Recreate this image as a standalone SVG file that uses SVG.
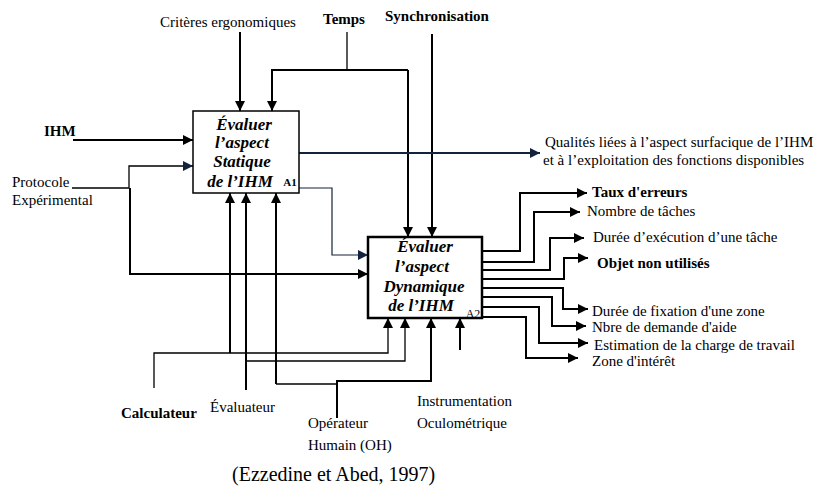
<svg xmlns="http://www.w3.org/2000/svg" width="817" height="496" viewBox="0 0 817 496">
<defs>
<marker id="a" viewBox="0 0 10 10" refX="10" refY="5" markerWidth="10" markerHeight="10" markerUnits="userSpaceOnUse" orient="auto"><path d="M0,0L10,5L0,10z" fill="#000"/></marker>
<marker id="b" viewBox="0 0 10 10" refX="10" refY="5" markerWidth="10" markerHeight="10" markerUnits="userSpaceOnUse" orient="auto"><path d="M0,0L10,5L0,10z" fill="#14233d"/></marker>
</defs>
<rect width="817" height="496" fill="#fff"/>
<g id="connectors" fill="none" stroke="#000" stroke-width="2">
<path d="M240,32V111" marker-end="url(#a)"/>
<path d="M347,32V70" stroke-width="1.3"/>
<path d="M408,70H272V111" marker-end="url(#a)"/>
<path d="M408,70V237" marker-end="url(#a)"/>
<path d="M432,34V237" marker-end="url(#a)"/>
<path d="M73,140H193" marker-end="url(#a)"/>
<path d="M72,188H129V166H193" stroke-width="1.3" marker-end="url(#b)"/>
<path d="M130,188V274H368" marker-end="url(#a)"/>
<path d="M299,153H540" stroke="#14233d" marker-end="url(#b)"/>
<path d="M299,188H332V255H368" stroke="#14233d" stroke-width="1.2" marker-end="url(#b)"/>
<path d="M230,353V193" marker-end="url(#a)"/>
<path d="M246,390V193" marker-end="url(#a)"/>
<path d="M276,384V193" marker-end="url(#a)"/>
<path d="M154,388V353H388V318" stroke-width="1.3" marker-end="url(#a)"/>
<path d="M246,361H405V318" stroke-width="1.3" marker-end="url(#a)"/>
<path d="M276,384H337" stroke-width="1.3"/>
<path d="M337,418V381H431V318" marker-end="url(#a)"/>
<path d="M460,350V318" marker-end="url(#a)"/>
<path d="M482,251H520V193H587" marker-end="url(#a)"/>
<path d="M482,262H534V212H580" marker-end="url(#a)"/>
<path d="M482,270H550V238H584" marker-end="url(#a)"/>
<path d="M482,279H564V258H588" marker-end="url(#a)"/>
<path d="M482,288H563V309H588" marker-end="url(#a)"/>
<path d="M482,297H552V326H586" marker-end="url(#a)"/>
<path d="M482,307H539V343H588" marker-end="url(#a)"/>
<path d="M482,317H526V358H578" marker-end="url(#a)"/>
</g>
<g id="A1">
<rect x="193" y="111" width="106" height="82" fill="#fff" stroke="#000" stroke-width="1.5"/>
<text font-family="serif" font-size="17" font-weight="bold" font-style="italic" text-anchor="middle" x="244" y="130">Évaluer</text>
<text font-family="serif" font-size="17" font-weight="bold" font-style="italic" text-anchor="middle" x="242" y="148">l’aspect</text>
<text font-family="serif" font-size="17" font-weight="bold" font-style="italic" text-anchor="middle" x="242" y="167">Statique</text>
<text font-family="serif" font-size="17" font-weight="bold" font-style="italic" text-anchor="middle" x="240" y="187">de l’IHM</text>
<text font-family="serif" font-size="11" font-weight="bold" text-anchor="middle" x="290" y="186">A1</text>
</g>
<g id="A2">
<rect x="368" y="237" width="114" height="81" fill="#fff" stroke="#000" stroke-width="2.5"/>
<text font-family="serif" font-size="17" font-weight="bold" font-style="italic" text-anchor="middle" x="425" y="252">Évaluer</text>
<text font-family="serif" font-size="17" font-weight="bold" font-style="italic" text-anchor="middle" x="422" y="272">l’aspect</text>
<text font-family="serif" font-size="17" font-weight="bold" font-style="italic" text-anchor="middle" x="424" y="292">Dynamique</text>
<text font-family="serif" font-size="17" font-weight="bold" font-style="italic" text-anchor="middle" x="421" y="311">de l’IHM</text>
<text font-family="serif" font-size="12" text-anchor="middle" x="473" y="318">A2</text>
</g>
<g id="labels">
<text font-family="serif" font-size="15" x="160" y="27">Critères ergonomiques</text>
<text font-family="serif" font-size="15" font-weight="bold" x="323" y="24">Temps</text>
<text font-family="serif" font-size="15" font-weight="bold" x="385" y="21">Synchronisation</text>
<text font-family="serif" font-size="15" font-weight="bold" x="44" y="136">IHM</text>
<text font-family="serif" font-size="15" x="12" y="187">Protocole</text>
<text font-family="serif" font-size="15" x="12" y="205">Expérimental</text>
<text font-family="serif" font-size="15" x="545" y="147">Qualités liées à l’aspect surfacique de l’IHM</text>
<text font-family="serif" font-size="15" x="543" y="165">et à l’exploitation des fonctions disponibles</text>
<text font-family="serif" font-size="15" font-weight="bold" x="592" y="197">Taux d'erreurs</text>
<text font-family="serif" font-size="15" x="587" y="216">Nombre de tâches</text>
<text font-family="serif" font-size="15" x="593" y="242">Durée d’exécution d’une tâche</text>
<text font-family="serif" font-size="15" font-weight="bold" x="597" y="268">Objet non utilisés</text>
<text font-family="serif" font-size="15" x="592" y="316">Durée de fixation d'une zone</text>
<text font-family="serif" font-size="15" x="592" y="332">Nbre de demande d'aide</text>
<text font-family="serif" font-size="15" x="594" y="350">Estimation de la charge de travail</text>
<text font-family="serif" font-size="15" x="592" y="366">Zone d'intérêt</text>
<text font-family="serif" font-size="15" font-weight="bold" x="121" y="418">Calculateur</text>
<text font-family="serif" font-size="15" x="210" y="412">Évaluateur</text>
<text font-family="serif" font-size="15" x="308" y="428">Opérateur</text>
<text font-family="serif" font-size="15" x="308" y="450">Humain (OH)</text>
<text font-family="serif" font-size="15" x="417" y="406">Instrumentation</text>
<text font-family="serif" font-size="15" x="417" y="428">Oculométrique</text>
<text font-family="serif" font-size="20" x="232" y="481">(Ezzedine et Abed, 1997)</text>
</g>
</svg>
